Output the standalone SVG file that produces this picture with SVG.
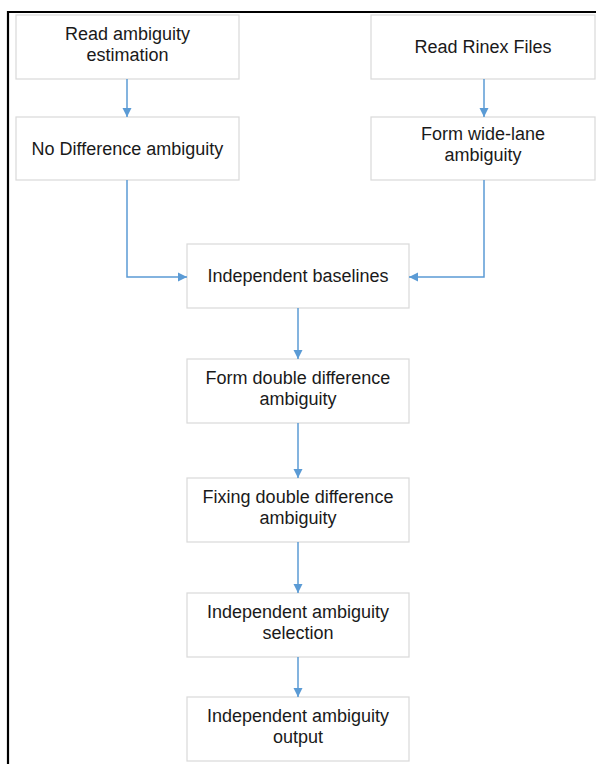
<svg xmlns="http://www.w3.org/2000/svg" width="596" height="764" viewBox="0 0 596 764">
<defs>
<marker id="ah" markerWidth="10" markerHeight="10" refX="9" refY="5" orient="auto" markerUnits="userSpaceOnUse">
<path d="M0,0.5 L9,5 L0,9.5 Z" fill="#5b9bd5"/>
</marker>
<style>
.box{fill:#ffffff;stroke:#d9d9d9;stroke-width:1.2}
.t{font-family:"Liberation Sans",Arial,sans-serif;font-size:18px;fill:#1a1a1a;text-anchor:middle}
.c{fill:none;stroke:#5b9bd5;stroke-width:1.5;marker-end:url(#ah)}
.frame{fill:none;stroke:#000;stroke-width:2.2}
</style>
</defs>
<rect width="596" height="764" fill="#ffffff"/>
<path class="frame" d="M8,764 L8,12 L596,12"/>
<g id="n1"><rect class="box" x="16" y="15" width="223" height="64"/>
<text class="t" x="127.5" y="40">Read ambiguity</text><text class="t" x="127.5" y="61">estimation</text></g>
<g id="n2"><rect class="box" x="16" y="117" width="223" height="63"/>
<text class="t" x="127.5" y="155">No Difference ambiguity</text></g>
<g id="n3"><rect class="box" x="371" y="15" width="224" height="64"/>
<text class="t" x="483" y="53">Read Rinex Files</text></g>
<g id="n4"><rect class="box" x="371" y="117" width="224" height="63"/>
<text class="t" x="483" y="140">Form wide-lane</text><text class="t" x="483" y="161">ambiguity</text></g>
<g id="n5"><rect class="box" x="187" y="244" width="222" height="64"/>
<text class="t" x="298" y="282">Independent baselines</text></g>
<g id="n6"><rect class="box" x="187" y="359" width="222" height="64"/>
<text class="t" x="298" y="384">Form double difference</text><text class="t" x="298" y="405">ambiguity</text></g>
<g id="n7"><rect class="box" x="187" y="478" width="222" height="64"/>
<text class="t" x="298" y="503">Fixing double difference</text><text class="t" x="298" y="524">ambiguity</text></g>
<g id="n8"><rect class="box" x="187" y="593" width="222" height="64"/>
<text class="t" x="298" y="618">Independent ambiguity</text><text class="t" x="298" y="639">selection</text></g>
<g id="n9"><rect class="box" x="187" y="697" width="222" height="64"/>
<text class="t" x="298" y="722">Independent ambiguity</text><text class="t" x="298" y="743">output</text></g>
<g id="connectors">
<path class="c" d="M127,79 L127,117"/>
<path class="c" d="M484,79 L484,117"/>
<path class="c" d="M127,180 L127,277 L187,277"/>
<path class="c" d="M484,180 L484,277 L409,277"/>
<path class="c" d="M298,308 L298,359"/>
<path class="c" d="M298,423 L298,478"/>
<path class="c" d="M298,542 L298,593"/>
<path class="c" d="M298,657 L298,697"/>
</g>
</svg>
